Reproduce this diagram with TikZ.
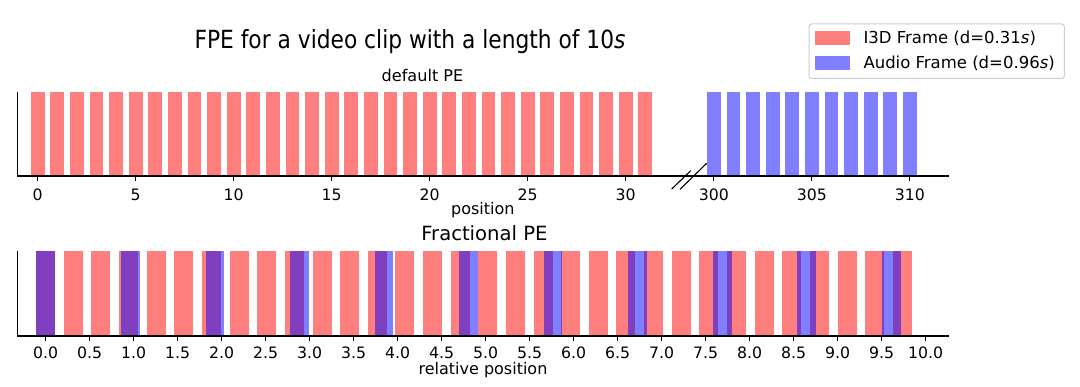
\documentclass[tikz,border=0pt]{standalone}
\usepackage{fontspec}
\setmainfont{DejaVu Sans}
\newfontfamily\titlefont[FakeStretch=0.87]{DejaVu Sans}
\begin{document}
\begin{tikzpicture}[x=1pt,y=-1pt,
  redbar/.style={fill=red, fill opacity=0.5, draw=none},
  bluebar/.style={fill=blue, fill opacity=0.5, draw=none},
  spine/.style={line width=1.2pt, draw=black},
  tickmark/.style={line width=1.1pt, draw=black},
  ticklabel/.style={anchor=base, inner sep=0pt, text depth=0pt, font=\fontsize{15.7}{18}\selectfont},
  axlabel/.style={anchor=base, inner sep=0pt, font=\fontsize{16}{19}\selectfont},
  legtext/.style={anchor=base west, inner sep=0pt, font=\fontsize{16.5}{19}\selectfont},
]
\useasboundingbox (0,0) rectangle (1080,387);

% ---------- top axes: default PE ----------
\foreach \k in {0,...,31}
  \fill[redbar] ({37.7+19.6*(\k-0.35)},92) rectangle ({37.7+19.6*(\k+0.35)},176);
\foreach \k in {0,...,10}
  \fill[bluebar] ({37.7+19.6*(34.15+\k)},92) rectangle ({37.7+19.6*(34.85+\k)},176);

\coordinate (tl) at (17.7,92);
\coordinate (bl) at (17.7,176);
\coordinate (br) at (949.3,176);
\draw[spine] (tl) -- (bl) -- (br);

\foreach \t in {0,5,...,30} {
  \draw[tickmark] ({37.7+19.6*\t},176) -- ++(0,5);
  \node[ticklabel] (tt\t) at ({37.7+19.6*\t},200.7) {\t};
}
\foreach \t/\l in {0/300,5/305,10/310} {
  \draw[tickmark] ({37.7+19.6*(34.5+\t)},176) -- ++(0,5);
  \node[ticklabel] (tt\l) at ({37.7+19.6*(34.5+\t)},200.7) {\l};
}
% axis break marks
\coordinate (b1a) at (671.7,189);
\coordinate (b1b) at (690.7,170.7);
\coordinate (b2a) at (680.0,189.3);
\coordinate (b2b) at (706.7,163.3);
\draw[tickmark] (b1a) -- (b1b);
\draw[tickmark] (b2a) -- (b2b);

\node[axlabel] (xlab1) at (482.8,215) {position};
\node[anchor=base, inner sep=0pt, font=\fontsize{16.1}{19}\selectfont] (sub1) at (422.5,81.7) {default PE};

% ---------- bottom axes: Fractional PE ----------
\foreach \k in {0,...,31}
  \fill[redbar] ({45.7+88*(0.314*\k-0.108)},251.3) rectangle ({45.7+88*(0.314*\k+0.108)},336);
\foreach \k in {0,...,10}
  \fill[bluebar] ({45.7+88*(0.961*\k-0.106)},251.3) rectangle ({45.7+88*(0.961*\k+0.106)},336);

\coordinate (tl2) at (17.7,251.3);
\coordinate (bl2) at (17.7,336);
\coordinate (br2) at (949.3,336);
\draw[spine] (tl2) -- (bl2) -- (br2);

\foreach \i/\l in {0/0.0,1/0.5,2/1.0,3/1.5,4/2.0,5/2.5,6/3.0,7/3.5,8/4.0,9/4.5,10/5.0,11/5.5,12/6.0,13/6.5,14/7.0,15/7.5,16/8.0,17/8.5,18/9.0,19/9.5,20/10.0} {
  \draw[tickmark] ({45.7+44*\i},336) -- ++(0,5);
  \node[ticklabel] (bt\i) at ({45.7+44*\i},359) {\l};
}
\node[axlabel] (xlab2) at (483,375) {relative position};
\node[anchor=base, inner sep=0pt, font=\fontsize{19.6}{23}\selectfont] (sub2) at (484.4,241) {Fractional PE};

% ---------- title ----------
\node[anchor=base, inner sep=0pt, font=\titlefont\fontsize{25}{30}\selectfont] (title) at (410,48.3) {FPE for a video clip with a length of 10\textit{s}};

% ---------- legend ----------
\draw[draw=black!20, line width=1pt, rounded corners=2.5pt, fill=white, fill opacity=0.8] (809,24) rectangle (1064.3,78.3);
\fill[redbar] (815,31) rectangle (850,45);
\fill[bluebar] (815,56) rectangle (850,70);
\node[legtext] (leg1) at (863.3,43.3) {I3D Frame (d=0.31\textit{s})};
\node[legtext] (leg2) at (863.3,68.3) {Audio Frame (d=0.96\textit{s})};
\end{tikzpicture}
\end{document}
